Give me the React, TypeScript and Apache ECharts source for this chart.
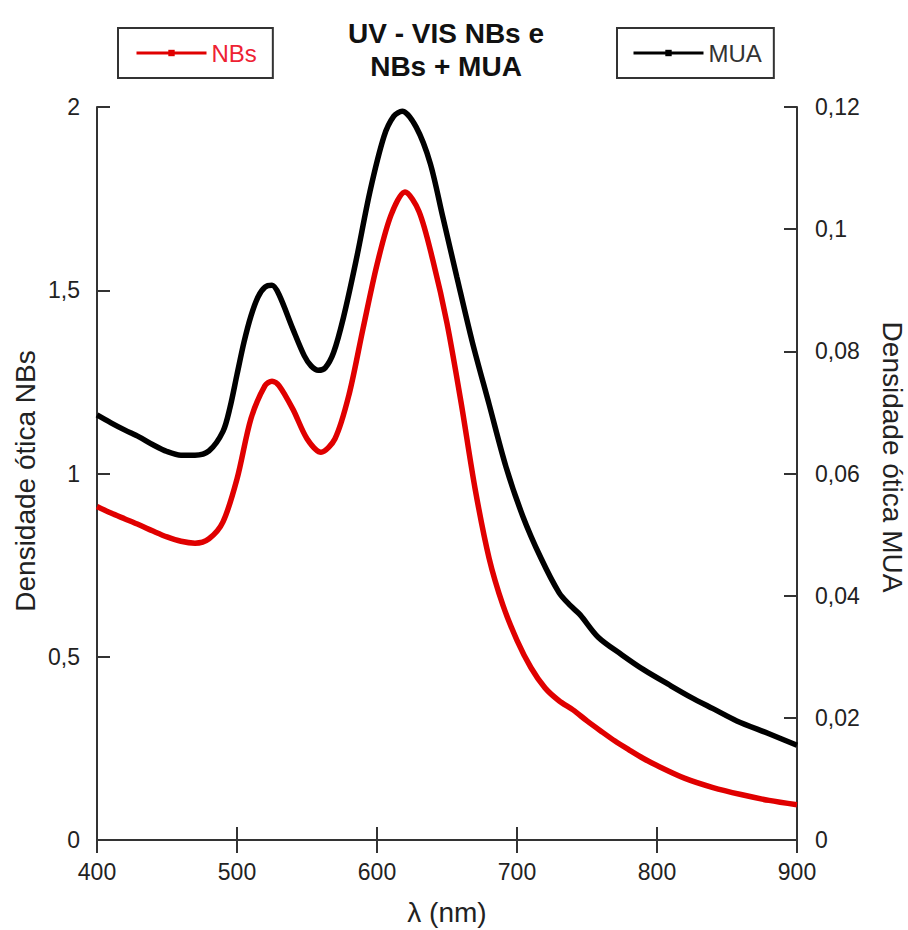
import React, { useEffect, useRef } from "react";
import * as echarts from "echarts";

const titleText = "UV - VIS NBs e\nNBs + MUA";
const xName = "λ (nm)";
const leftName = "Densidade ótica NBs";
const rightName = "Densidade ótica MUA";

const nbsWavelengths = [400, 410, 420, 430, 440, 450, 460, 470, 480, 490, 500, 510, 520, 525, 530, 540, 550, 560, 570, 580, 590, 600, 610, 620, 630, 640, 650, 660, 670, 680, 690, 700, 710, 720, 730, 740, 750, 760, 770, 780, 790, 800, 820, 840, 860, 880, 900];
const nbsValues = [0.91, 0.892, 0.876, 0.86, 0.843, 0.827, 0.815, 0.81, 0.822, 0.868, 0.985, 1.15, 1.24, 1.252, 1.24, 1.175, 1.095, 1.058, 1.095, 1.215, 1.395, 1.57, 1.705, 1.768, 1.715, 1.58, 1.41, 1.195, 0.96, 0.77, 0.64, 0.545, 0.47, 0.415, 0.38, 0.355, 0.325, 0.297, 0.27, 0.246, 0.223, 0.203, 0.168, 0.143, 0.124, 0.108, 0.096];

const muaWavelengths = [400, 410, 420, 430, 440, 450, 460, 470, 480, 490, 495, 500, 505, 510, 515, 520, 525, 530, 540, 548, 553, 558, 563, 569, 576, 585, 595, 605, 612, 618, 628, 638, 647, 657, 668, 680, 692, 704, 717, 730, 738, 745, 758, 775, 791, 808, 824, 840, 857, 880, 900];
const muaValues = [0.0696, 0.0683, 0.0671, 0.066, 0.0647, 0.0636, 0.063, 0.063, 0.0637, 0.0669, 0.0708, 0.0762, 0.0815, 0.0858, 0.0889, 0.0905, 0.0908, 0.0893, 0.0836, 0.0793, 0.0776, 0.0769, 0.0773, 0.0798, 0.0855, 0.0948, 0.1062, 0.1152, 0.1185, 0.1193, 0.1167, 0.1108, 0.102, 0.0922, 0.0816, 0.0714, 0.0612, 0.0531, 0.0462, 0.0405, 0.0384, 0.0369, 0.0332, 0.0303, 0.0278, 0.0255, 0.0234, 0.0215, 0.0195, 0.0174, 0.0155];

const fmt = (v: number) => String(Number(v.toFixed(3))).replace(".", ",");

export default function App() {
  const ref = useRef<HTMLDivElement>(null);
  useEffect(() => {
    document.body.style.margin = "0";
    if (!ref.current) return;
    const chart = echarts.init(ref.current, undefined, { renderer: "svg" });
    const font = "Liberation Sans, Arial, sans-serif";
    const axisColor = "#333";
    const tickCommon = { show: true, inside: true, length: 13, lineStyle: { color: axisColor, width: 2 } };
    const lineCommon = { show: true, lineStyle: { color: axisColor, width: 2 } };
    chart.setOption({
      animation: false,
      backgroundColor: "#fff",
      textStyle: { fontFamily: font },
      title: {
        text: titleText,
        left: 441,
        top: 12,
        textAlign: "center",
        textStyle: { fontFamily: font, fontSize: 28, fontWeight: "bold", color: "#111", lineHeight: 33 },
      },
      legend: [
        {
          data: ["NBs"],
          left: 118,
          top: 28,
          padding: [13, 16, 13, 17],
          borderColor: "#333",
          borderWidth: 2,
          itemWidth: 70,
          itemHeight: 8,
          itemGap: 5,
          lineStyle: { width: 3 },
          textStyle: { fontFamily: font, fontSize: 24, color: "#ee2233" },
        },
        {
          data: ["MUA"],
          left: 617,
          top: 28,
          padding: [13, 12, 13, 15],
          borderColor: "#333",
          borderWidth: 2,
          itemWidth: 70,
          itemHeight: 8,
          lineStyle: { width: 3 },
          textStyle: { fontFamily: font, fontSize: 24, color: "#333" },
        },
      ],
      grid: { left: 97, right: 111, top: 107, bottom: 90, outerBoundsMode: "none", containLabel: false },
      graphic: [
        {
          type: "text",
          x: 25,
          y: 481,
          rotation: Math.PI / 2,
          style: { text: leftName, fontFamily: font, fontSize: 28, fill: "#222", align: "center", verticalAlign: "middle" },
        },
        {
          type: "text",
          x: 892,
          y: 457,
          rotation: -Math.PI / 2,
          style: { text: rightName, fontFamily: font, fontSize: 28, fill: "#222", align: "center", verticalAlign: "middle" },
        },
      ],
      xAxis: [
        {
          type: "value",
          min: 400,
          max: 900,
          interval: 100,
          position: "bottom",
          name: xName,
          nameLocation: "middle",
          nameGap: 58,
          nameTextStyle: { fontFamily: font, fontSize: 28, color: "#222" },
          axisLine: lineCommon,
          axisTick: tickCommon,
          axisLabel: { fontFamily: font, fontSize: 23, color: "#222", margin: 20 },
          splitLine: { show: false },
        },
        {
          type: "value",
          min: 400,
          max: 900,
          interval: 100,
          position: "top",
          axisLine: lineCommon,
          axisTick: tickCommon,
          axisLabel: { show: false },
          splitLine: { show: false },
        },
      ],
      yAxis: [
        {
          type: "value",
          min: 0,
          max: 2,
          interval: 0.5,
          position: "left",
          axisLine: lineCommon,
          axisTick: tickCommon,
          axisLabel: { fontFamily: font, fontSize: 23, color: "#222", margin: 17, formatter: fmt },
          splitLine: { show: false },
        },
        {
          type: "value",
          min: 0,
          max: 0.12,
          interval: 0.02,
          position: "right",
          axisLine: lineCommon,
          axisTick: tickCommon,
          axisLabel: { fontFamily: font, fontSize: 23, color: "#222", margin: 18, formatter: fmt },
          splitLine: { show: false },
        },
      ],
      series: [
        {
          name: "NBs",
          type: "line",
          xAxisIndex: 0,
          yAxisIndex: 0,
          smooth: 0.3,
          symbol: "rect",
          showSymbol: false,
          lineStyle: { color: "#e00000", width: 5.5 },
          itemStyle: { color: "#e00000" },
          data: nbsWavelengths.map((w, i) => [w, nbsValues[i]]),
        },
        {
          name: "MUA",
          type: "line",
          xAxisIndex: 0,
          yAxisIndex: 1,
          smooth: 0.3,
          symbol: "rect",
          showSymbol: false,
          lineStyle: { color: "#000", width: 5.5 },
          itemStyle: { color: "#000" },
          data: muaWavelengths.map((w, i) => [w, muaValues[i]]),
        },
      ],
    });
    return () => chart.dispose();
  }, []);
  return <div ref={ref} style={{ width: 908, height: 930 }} />;
}
